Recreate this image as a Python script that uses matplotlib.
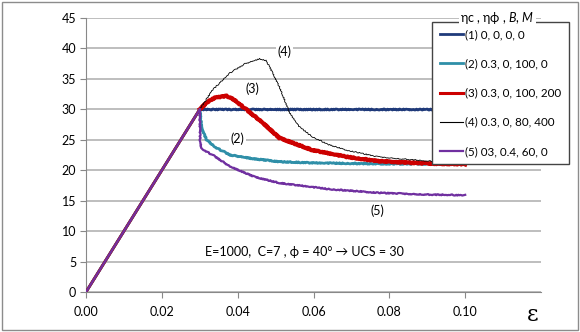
import matplotlib
matplotlib.use('Agg')
import matplotlib.pyplot as plt
import matplotlib.patches as mpatches

plt.rcParams['font.family'] = ['Lato', 'DejaVu Sans']
plt.rcParams['mathtext.fontset'] = 'custom'
plt.rcParams['mathtext.rm'] = 'Lato'
plt.rcParams['mathtext.it'] = 'Lato:italic'

# strain / stress values
eps1 = [0, 0.03, 0.10]
sig1 = [0, 30, 30]

eps2 = [0, 0.03, 0.0305, 0.0318, 0.034, 0.038, 0.044, 0.051, 0.060, 0.077, 0.10]
sig2 = [0, 30, 26.8, 25.0, 23.8, 22.5, 21.9, 21.4, 21.2, 21.05, 21.0]

eps3 = [0, 0.03, 0.032, 0.034, 0.0371, 0.039, 0.0424, 0.0466, 0.051, 0.0597,
        0.0687, 0.077, 0.09, 0.10]
sig3 = [0, 30, 31.2, 31.9, 32.2, 31.6, 29.9, 27.8, 25.3, 23.3, 22.2, 21.5, 21.1, 21.0]

eps4 = [0, 0.03, 0.0334, 0.038, 0.042, 0.0458, 0.0475, 0.0484, 0.051, 0.0537,
        0.0563, 0.0597, 0.064, 0.0687, 0.077, 0.09, 0.10]
sig4 = [0, 30, 33.2, 36.0, 37.5, 38.3, 38.0, 37.0, 33.7, 29.4, 27.1, 25.5, 24.2,
        23.3, 22.2, 21.5, 21.3]

eps5 = [0, 0.03, 0.0301, 0.0305, 0.0334, 0.038, 0.0445, 0.051, 0.064, 0.077, 0.09, 0.10]
sig5 = [0, 30, 24.5, 23.5, 22.5, 20.6, 18.9, 17.9, 16.9, 16.3, 16.0, 15.9]

labels = ['(1) 0, 0, 0, 0', '(2) 0.3, 0, 100, 0', '(3) 0.3, 0, 100, 200',
          '(4) 0.3, 0, 80, 400', '(5) 03, 0.4, 60, 0']
x_ticks = [0.00, 0.02, 0.04, 0.06, 0.08, 0.10]
y_ticks = [0, 5, 10, 15, 20, 25, 30, 35, 40, 45]

series = [(eps1, sig1), (eps2, sig2), (eps3, sig3), (eps4, sig4), (eps5, sig5)]
colors = ['#1f3a7a', '#2f8fa8', '#cc0000', 'black', '#7030a0']
widths = [2.0, 2.0, 3.0, 0.6, 1.6]
zs = [3, 3, 3, 4, 4]

fig = plt.figure(figsize=(5.8, 3.32), dpi=100)
ax = fig.add_axes([0.1483, 0.1205, 0.7845, 0.8253])

handles = []
for (e, s), c, w, z in zip(series, colors, widths, zs):
    # smooth elastic part
    ax.plot(e[:2], s[:2], color=c, lw=min(w, 2.0), zorder=z)
    # post-peak part, drawn a bit jagged like the source
    ln, = ax.plot(e[1:], s[1:], color=c, lw=w, zorder=z)
    ln.set_sketch_params(scale=0.5, length=1.2, randomness=2)
    handles.append(plt.Line2D([], [], color=c, lw=min(w, 2.2) if w > 1 else 0.8))

ax.set_xlim(0, 0.12)
ax.set_ylim(0, 45)
ax.set_xticks(x_ticks)
ax.set_xticklabels(['%.2f' % v for v in x_ticks])
ax.set_yticks(y_ticks)
ax.tick_params(labelsize=9, color='#888888', length=4, width=0.8)
ax.tick_params(axis='y', pad=3)
ax.tick_params(axis='x', pad=6)
ax.yaxis.grid(True, color='#b3b3b3', lw=1.2)
ax.set_axisbelow(True)
for s in ['top', 'right']:
    ax.spines[s].set_visible(False)
for s in ['left', 'bottom']:
    ax.spines[s].set_color('#888888')
    ax.spines[s].set_linewidth(0.8)

bb = dict(facecolor='white', edgecolor='none', pad=1)
ax.text(0.0524, 39.5, '(4)', fontsize=9, ha='center', va='center', bbox=bb, zorder=5)
ax.text(0.0439, 33.4, '(3)', fontsize=9, ha='center', va='center', zorder=5)
ax.text(0.0400, 25.2, '(2)', fontsize=9, ha='center', va='center', bbox=bb, zorder=5)
ax.text(0.0768, 13.3, '(5)', fontsize=9, ha='center', va='center', bbox=bb, zorder=5)
ax.text(0.0576, 6.6, 'E=1000,  C=7 , ϕ = 40° → UCS = 30', fontsize=9,
        ha='center', va='center', zorder=5)

fig.text(0.919, 0.051, 'ε', fontsize=16, family='DejaVu Serif', ha='center', va='center')

leg = fig.legend(handles, labels, loc='upper left',
                 bbox_to_anchor=(0.745, 0.521, 0.236, 0.413), mode='expand',
                 bbox_transform=fig.transFigure, borderaxespad=0, fontsize=8.4,
                 labelspacing=1.55, handlelength=2.0, handletextpad=0.2,
                 borderpad=0.65, fancybox=False, framealpha=1)
leg.get_frame().set_edgecolor('#444444')
leg.get_frame().set_linewidth(1.0)
fig.text(0.857, 0.945, 'ηc , ηϕ , $B$, $M$', fontsize=9, ha='center', va='center',
         bbox=dict(facecolor='white', edgecolor='none', pad=1), zorder=10)

fig.patches.append(mpatches.Rectangle((0.003, 0.005), 0.994, 0.99, transform=fig.transFigure,
                                      fill=False, ec='#8c8c8c', lw=1.0))

fig.savefig('out.png', dpi=100)
